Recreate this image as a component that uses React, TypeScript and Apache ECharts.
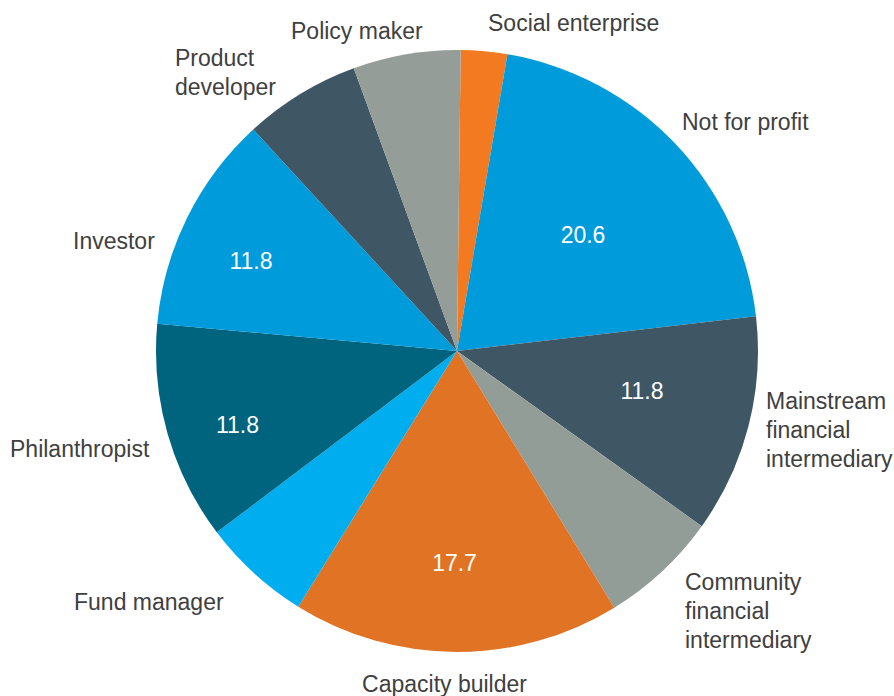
import React, { useEffect, useRef } from "react";
import * as echarts from "echarts";

const categories = [
  "Social enterprise",
  "Not for profit",
  "Mainstream\nfinancial\nintermediary",
  "Community\nfinancial\nintermediary",
  "Capacity builder",
  "Fund manager",
  "Philanthropist",
  "Investor",
  "Product\ndeveloper",
  "Policy maker",
];
const shares = [2.5, 20.6, 11.8, 6.4, 17.7, 5.9, 11.8, 11.8, 6.3, 5.8];
const shownValues = [false, true, true, false, true, false, true, true, false, false];

const colors = [
  "#f47a21",
  "#009bdb",
  "#3f5765",
  "#939d97",
  "#e17325",
  "#00aeef",
  "#00647f",
  "#009bdb",
  "#3f5765",
  "#949d97",
];

// label anchor positions (x, y, align) — layout only
const nameLabelPos: [number, number, string][] = [
  [488, 23, "left"],
  [682, 122, "left"],
  [766, 430, "left"],
  [685, 611, "left"],
  [444.5, 683.5, "center"],
  [74, 602, "left"],
  [10, 449, "left"],
  [73, 240.5, "left"],
  [175, 72, "left"],
  [291, 30.5, "left"],
];
const valueLabelPos: Record<number, [number, number]> = {
  1: [583, 235],
  2: [642, 391],
  4: [454.5, 563],
  6: [237.5, 425],
  7: [251, 260.5],
};

const FONT = "'Liberation Sans', Helvetica, Arial, sans-serif";

export default function App() {
  const ref = useRef<HTMLDivElement>(null);
  useEffect(() => {
    if (!ref.current) return;
    const chart = echarts.init(ref.current, null, { renderer: "svg" });
    const data = categories.map((name, i) => ({
      name,
      value: shares[i],
      itemStyle: { color: colors[i] },
      label: name.indexOf("\n") < 0 ? { lineHeight: 22 } : {},
    }));
    const common = {
      type: "pie",
      center: [457, 351],
      radius: 301,
      startAngle: 89.3,
      clockwise: true,
      avoidLabelOverlap: false,
      labelLine: { show: false },
      emphasis: { disabled: true },
    };
    chart.setOption({
      animation: false,
      series: [
        {
          ...common,
          data,
          itemStyle: { borderWidth: 0 },
          label: {
            show: true,
            position: "outside",
            formatter: "{b}",
            fontFamily: FONT,
            fontSize: 23,
            lineHeight: 29,
            color: "#404040",
          },
          labelLayout: (p: any) => {
            const pos = nameLabelPos[p.dataIndex];
            return { x: pos[0], y: pos[1], align: pos[2], verticalAlign: "middle" };
          },
        },
        {
          ...common,
          silent: true,
          data: categories.map((name, i) => ({
            name,
            value: shares[i],
            itemStyle: { color: "rgba(0,0,0,0)" },
            label: { show: shownValues[i] },
          })),
          label: {
            show: true,
            position: "inside",
            formatter: (p: any) => Number(p.value).toFixed(1),
            fontFamily: FONT,
            fontSize: 23,
            color: "#ffffff",
          },
          labelLayout: (p: any) => {
            const pos = valueLabelPos[p.dataIndex];
            if (!pos) return {};
            return { x: pos[0], y: pos[1], align: "center", verticalAlign: "middle" };
          },
        },
      ],
    });
    return () => chart.dispose();
  }, []);
  return (
    <div
      ref={ref}
      style={{ position: "fixed", left: 0, top: 0, width: 894, height: 696, background: "#fff" }}
    />
  );
}
